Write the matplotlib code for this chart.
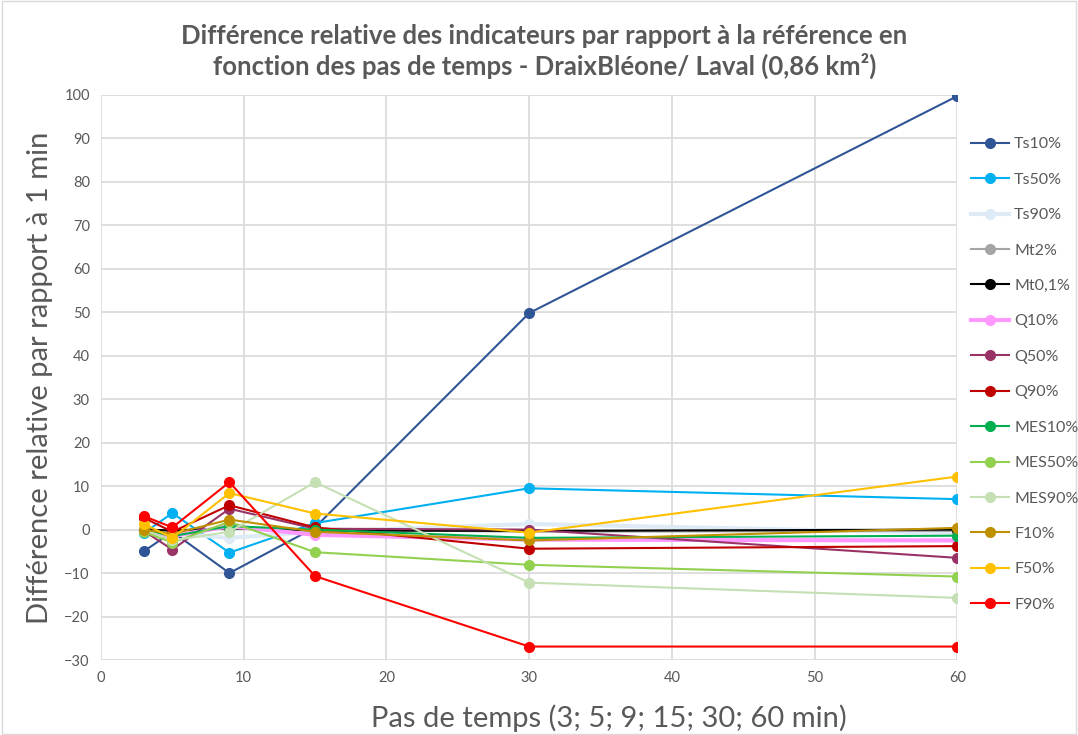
import matplotlib
matplotlib.use("Agg")
import matplotlib.pyplot as plt

plt.rcParams["font.family"] = ["Lato", "DejaVu Sans"]

# pas de temps (min)
pas = [3, 5, 9, 15, 30, 60]

noms = ["Ts10%", "Ts50%", "Ts90%", "Mt2%", "Mt0,1%", "Q10%", "Q50%", "Q90%",
        "MES10%", "MES50%", "MES90%", "F10%", "F50%", "F90%"]

ts10 = [-5.0, -0.5, -10.0, 0.5, 49.8, 99.7]
ts50 = [-0.8, 3.8, -5.3, 1.5, 9.5, 7.0]
ts90 = [-0.3, -0.8, -1.9, -0.5, 1.3, -0.8]
mt2 = [0.0, -0.3, 0.3, 0.0, -0.5, -0.3]
mt01 = [0.0, -0.2, 0.3, -0.2, -0.3, 0.0]
q10 = [-0.3, -1.5, 0.8, -1.2, -2.3, -2.5]
q50 = [-0.3, -4.6, 4.8, 0.2, 0.0, -6.5]
q90 = [2.7, -0.5, 5.6, 0.5, -4.4, -3.8]
mes10 = [0.0, -1.5, 0.8, 0.0, -1.9, -1.4]
mes50 = [-0.5, -3.0, 1.8, -5.2, -8.1, -10.8]
mes90 = [0.0, -2.5, -0.5, 10.9, -12.2, -15.7]
f10 = [0.0, -1.0, 2.3, -0.5, -2.5, 0.4]
f50 = [1.3, -1.9, 8.4, 3.7, -0.7, 12.2]
f90 = [3.1, 0.5, 10.9, -10.7, -26.9, -26.9]

series = [ts10, ts50, ts90, mt2, mt01, q10, q50, q90, mes10, mes50, mes90, f10, f50, f90]
couleurs = ["#2F5597", "#00B0F0", "#DEEBF7", "#A5A5A5", "#000000", "#FF99FF", "#993366",
            "#C00000", "#00B050", "#92D050", "#C5E0B4", "#BF9000", "#FFC000", "#FF0000"]
largeurs = [1.5, 1.5, 3, 1.5, 1.5, 3, 1.5, 1.5, 1.5, 1.5, 1.5, 1.5, 1.5, 1.5]

fig = plt.figure(figsize=(10.78, 7.35), dpi=100)
ax = fig.add_axes([0.0937, 0.102, 0.7943, 0.769])

for nom, val, c, lw in zip(noms, series, couleurs, largeurs):
    ax.plot(pas, val, color=c, lw=lw, marker="o", markersize=7, label=nom)

ax.set_xlim(0, 60)
ax.set_ylim(-30, 100)
ax.set_xticks(range(0, 61, 10))
ax.set_yticks(range(-30, 101, 10))
ax.grid(True, color="#D9D9D9", lw=1.2)
ax.set_axisbelow(True)
for s in ax.spines.values():
    s.set_visible(False)
ax.tick_params(length=0, labelsize=10.5, colors="#595959", pad=8)

fig.text(0.505, 0.930, "Différence relative des indicateurs par rapport à la référence en\n"
         "fonction des pas de temps - DraixBléone/ Laval (0,86 km²)",
         ha="center", va="center", fontsize=18.5, fontweight="bold", color="#595959",
         linespacing=1.25)
ax.set_ylabel("Différence relative par rapport à 1 min", fontsize=21, color="#595959",
              labelpad=8)
fig.text(0.565, 0.023, "Pas de temps (3; 5; 9; 15; 30; 60 min)", ha="center", va="center",
         fontsize=21, color="#595959")

fig.legend(loc="upper left", bbox_to_anchor=(0.8875, 0.833), frameon=False,
           fontsize=11.5, labelspacing=1.33, handlelength=2.4, handletextpad=0.3,
           labelcolor="#595959")

fig.patches.append(plt.Rectangle((0.002, 0.002), 0.996, 0.996, transform=fig.transFigure,
                                 fill=False, edgecolor="#D9D9D9", lw=1))

fig.savefig("out.png", dpi=100)
